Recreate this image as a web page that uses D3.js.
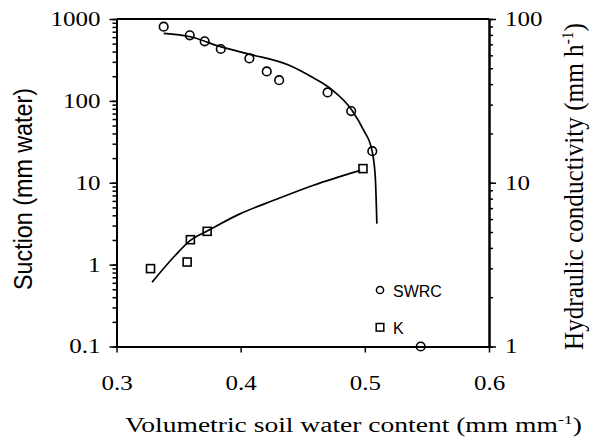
<!DOCTYPE html>
<html>
<head>
<meta charset="utf-8">
<script src="https://cdn.jsdelivr.net/npm/d3@7"></script>
<style>
  body { margin: 0; background: #fff; }
  svg { display: block; }
</style>
</head>
<body>
<div id="chart"></div>
<script>
// SWRC measurements: water content vs suction (mm water)
const swrcTheta = [0.338, 0.359, 0.371, 0.384, 0.407, 0.421, 0.431, 0.470, 0.489, 0.506, 0.545]
const swrcSuction = [805, 632, 533, 430, 330, 229, 179, 127, 75, 24.3, 0.1]
// fitted retention curve, traced
const fitTheta = [0.338, 0.3595, 0.3837, 0.4078, 0.4386, 0.456, 0.4722, 0.4896, 0.499, 0.5057, 0.5084, 0.5097]
const fitSuction = [668, 607, 459, 370, 274, 201, 142, 77, 43.9, 25, 11.8, 3.17]
// hydraulic conductivity (mm/h), right axis
const kTheta = [0.3274, 0.3569, 0.3595, 0.373, 0.4985]
const kValue = [2.99, 3.28, 4.49, 5.05, 12.2]
const kFitTheta = [0.3287, 0.3461, 0.3595, 0.373, 0.3998, 0.4266, 0.4587, 0.4963]
const kFitValue = [2.47, 3.52, 4.45, 5.07, 6.48, 7.81, 9.66, 11.9]

const xTicks = [0.3, 0.4, 0.5, 0.6]
const suctionTicks = [0.1, 1, 10, 100, 1000]
const kTicks = [1, 10, 100]
const legendNames = ['SWRC', 'K']

const width = 592
const height = 445
const plotLeft = 116.5, plotRight = 489, plotTop = 19, plotBottom = 346.5
const serif = '"Liberation Serif", "Times New Roman", serif'
const sans = '"Liberation Sans", Arial, sans-serif'
const sx = 1.25 // the scan is wider than tall

const svg = d3.select('#chart').append('svg')
  .attr('width', width)
  .attr('height', height)
  .style('background', 'white')

const x = d3.scaleLinear().domain([0.3, 0.6]).range([plotLeft, plotRight])
const yS = d3.scaleLog().domain([0.1, 1000]).range([plotBottom, plotTop])
const yK = d3.scaleLog().domain([1, 100]).range([plotBottom, plotTop])

function stretch (sel, k) {
  sel.each(function () {
    const w = this.getComputedTextLength()
    d3.select(this).attr('textLength', w * k).attr('lengthAdjust', 'spacingAndGlyphs')
  })
}

function styleAxis (g) {
  g.select('.domain').attr('stroke', '#000').attr('stroke-width', 2)
  g.selectAll('.tick line').attr('stroke', '#000').attr('stroke-width', 1.5)
  g.selectAll('text').attr('fill', '#000').style('font-family', serif).style('font-size', '20px')
}

// minor ticks first
svg.append('g')
  .attr('transform', `translate(${plotLeft},0)`)
  .call(d3.axisLeft(yS).tickValues(yS.ticks()).tickSize(4).tickSizeOuter(0).tickFormat(''))
  .call(styleAxis)
svg.append('g')
  .attr('transform', `translate(${plotRight},0)`)
  .call(d3.axisRight(yK).tickValues(yK.ticks()).tickSize(4).tickSizeOuter(0).tickFormat(''))
  .call(styleAxis)

const leftAxis = svg.append('g')
  .attr('transform', `translate(${plotLeft},0)`)
  .call(d3.axisLeft(yS).tickValues(suctionTicks).tickSize(7).tickSizeOuter(0)
    .tickPadding(9).tickFormat(d3.format('~g')))
  .call(styleAxis)

const rightAxis = svg.append('g')
  .attr('transform', `translate(${plotRight},0)`)
  .call(d3.axisRight(yK).tickValues(kTicks).tickSize(7).tickSizeOuter(0)
    .tickPadding(9).tickFormat(d3.format('~g')))
  .call(styleAxis)

const bottomAxis = svg.append('g')
  .attr('transform', `translate(0,${plotBottom})`)
  .call(d3.axisBottom(x).tickValues(xTicks).tickSize(6).tickSizeOuter(0).tickFormat(d3.format('.1f')))
  .call(styleAxis)
bottomAxis.selectAll('text').attr('dy', null).attr('y', 43)

stretch(leftAxis.selectAll('text'), sx)
stretch(rightAxis.selectAll('text'), sx)
stretch(bottomAxis.selectAll('text'), sx)

// top frame line
svg.append('line')
  .attr('x1', x(0.3)).attr('x2', x(0.6))
  .attr('y1', plotTop).attr('y2', plotTop)
  .attr('stroke', '#000').attr('stroke-width', 2)

// fitted curves
const swrcLine = d3.line()
  .x((d, i) => x(fitTheta[i]))
  .y(d => yS(d))
  .curve(d3.curveMonotoneX)

svg.append('path')
  .attr('d', swrcLine(fitSuction))
  .attr('fill', 'none')
  .attr('stroke', '#000')
  .attr('stroke-width', 1.7)

const kLine = d3.line()
  .x((d, i) => x(kFitTheta[i]))
  .y(d => yK(d))
  .curve(d3.curveMonotoneX)

svg.append('path')
  .attr('d', kLine(kFitValue))
  .attr('fill', 'none')
  .attr('stroke', '#000')
  .attr('stroke-width', 1.7)

// observed points
svg.selectAll('circle.swrc')
  .data(swrcSuction)
  .enter()
  .append('circle')
  .attr('class', 'swrc')
  .attr('cx', (d, i) => x(swrcTheta[i]))
  .attr('cy', d => yS(d))
  .attr('r', 4.3)
  .attr('fill', 'none')
  .attr('stroke', '#000')
  .attr('stroke-width', 1.6)

svg.selectAll('rect.k')
  .data(kValue)
  .enter()
  .append('rect')
  .attr('class', 'k')
  .attr('x', (d, i) => x(kTheta[i]) - 4)
  .attr('y', d => yK(d) - 4)
  .attr('width', 8)
  .attr('height', 8)
  .attr('fill', 'none')
  .attr('stroke', '#000')
  .attr('stroke-width', 1.6)

// legend
const legend = svg.append('g').attr('transform', 'translate(380,290)')
legend.append('circle')
  .attr('r', 3.6)
  .attr('fill', 'none')
  .attr('stroke', '#000')
  .attr('stroke-width', 1.5)
legend.append('rect')
  .attr('x', -3.8).attr('y', 33.5)
  .attr('width', 7.6).attr('height', 7.6)
  .attr('fill', 'none')
  .attr('stroke', '#000')
  .attr('stroke-width', 1.5)
legend.selectAll('text')
  .data(legendNames)
  .enter()
  .append('text')
  .attr('x', 13)
  .attr('y', (d, i) => 6.5 + i * 37)
  .style('font-family', sans)
  .style('font-size', '16px')
  .text(d => d)

// axis titles
const xTitle = svg.append('text')
  .attr('x', 353.5)
  .attr('y', 432)
  .attr('text-anchor', 'middle')
  .attr('textLength', 457)
  .attr('lengthAdjust', 'spacingAndGlyphs')
  .style('font-family', serif)
  .style('font-size', '20px')
xTitle.append('tspan').text('Volumetric soil water content (mm mm')
xTitle.append('tspan').attr('dy', -8).style('font-size', '13px').text('-1')
xTitle.append('tspan').attr('dy', 8).text(')')

svg.append('text')
  .attr('transform', `translate(31.5,189) rotate(-90) scale(1,${sx})`)
  .attr('text-anchor', 'middle')
  .attr('textLength', 202)
  .attr('lengthAdjust', 'spacingAndGlyphs')
  .style('font-family', sans)
  .style('font-size', '21px')
  .text('Suction (mm water)')

const kTitle = svg.append('text')
  .attr('transform', `translate(583,186.5) rotate(-90) scale(1,${sx})`)
  .attr('text-anchor', 'middle')
  .attr('textLength', 327)
  .attr('lengthAdjust', 'spacingAndGlyphs')
  .style('font-family', serif)
  .style('font-size', '21px')
kTitle.append('tspan').text('Hydraulic conductivity (mm h')
kTitle.append('tspan').attr('dy', -8).style('font-size', '13px').text('-1')
kTitle.append('tspan').attr('dy', 8).text(')')
</script>
</body>
</html>
